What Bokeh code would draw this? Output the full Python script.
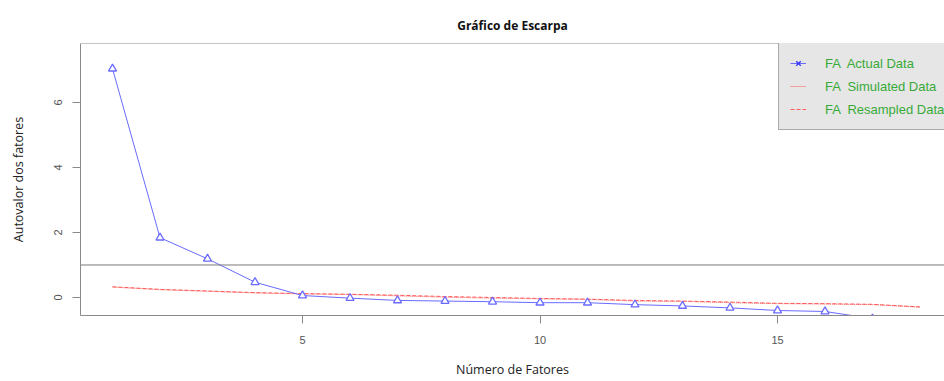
from bokeh.plotting import figure
from bokeh.models import Range1d, FixedTicker, Span, Legend, LegendItem, ColumnDataSource
from bokeh.embed import file_html
from bokeh.resources import INLINE

# ---- data ----
factors_actual = list(range(1, 18))
fa_actual = [7.04, 1.84, 1.19, 0.47, 0.06, -0.02, -0.09, -0.11, -0.13, -0.16,
             -0.16, -0.22, -0.26, -0.32, -0.40, -0.43, -0.65]
factors_sim = list(range(1, 19))
fa_simulated = [0.32, 0.24, 0.19, 0.14, 0.11, 0.09, 0.05, 0.01, -0.02, -0.04,
                -0.06, -0.11, -0.12, -0.16, -0.19, -0.20, -0.22, -0.30]
fa_resampled = [0.33, 0.25, 0.20, 0.15, 0.12, 0.10, 0.07, 0.03, 0.00, -0.03,
                -0.05, -0.09, -0.11, -0.14, -0.18, -0.19, -0.21, -0.29]
x_ticks = [5, 10, 15]
y_ticks = [0, 2, 4, 6]
ref_line = 1.0
legend_labels = ["FA  Actual Data", "FA  Simulated Data", "FA  Resampled Data"]

X0, X1 = 0.326, 18.516
Y0, Y1 = -0.554, 7.815

p = figure(width=944, height=381, output_backend="svg", toolbar_location=None,
           x_range=Range1d(X0, X1), y_range=Range1d(Y0, Y1),
           min_border_left=80, min_border_right=0, min_border_top=43, min_border_bottom=66,
           title="Gráfico de Escarpa")
p.background_fill_color = "white"
p.border_fill_color = "white"
p.outline_line_color = None
p.grid.visible = False

p.title.align = "center"
p.title.text_font = "Open Sans"
p.title.text_font_size = "12px"
p.title.text_font_style = "bold"
p.title.text_color = "#111111"
p.title.standoff = 19

for ax in (p.xaxis[0], p.yaxis[0]):
    ax.axis_line_color = "#8a8a8a"
    ax.major_tick_line_color = "#8a8a8a"
    ax.minor_tick_line_color = None
    ax.major_tick_out = 8
    ax.major_tick_in = 0
    ax.major_label_text_font = "Liberation Sans"
    ax.major_label_text_font_size = "11px"
    ax.major_label_text_color = "#555555"
    ax.axis_label_text_font = "Open Sans"
    ax.axis_label_text_font_size = "12.5px"
    ax.axis_label_text_font_style = "normal"
    ax.axis_label_text_color = "#222222"

p.xaxis.ticker = FixedTicker(ticks=x_ticks)
p.yaxis.ticker = FixedTicker(ticks=y_ticks)
p.yaxis.major_label_orientation = "vertical"
p.xaxis.axis_label = "Número de Fatores"
p.yaxis.axis_label = "Autovalor dos fatores"
p.xaxis.major_label_standoff = 12
p.xaxis.axis_label_standoff = 14
p.yaxis.major_label_standoff = 10
p.yaxis.axis_label_standoff = 25

# top border of the plot box
p.add_layout(Span(location=Y1, dimension="width", line_color="#8a8a8a", line_width=1))
# reference line at eigenvalue 1
p.add_layout(Span(location=ref_line, dimension="width", line_color="#7a7a7a", line_width=1))

blue = "#6a6aff"
red = "#ff5c5c"

r_sim = p.line(factors_sim, fa_simulated, line_color=red, line_width=1, line_dash="1 1")
r_res = p.line(factors_sim, fa_resampled, line_color=red, line_width=1, line_dash="4 2")
r_act = p.line(factors_actual, fa_actual, line_color=blue, line_width=1)
p.scatter(factors_actual, fa_actual, marker="triangle", size=8, line_color=blue,
          fill_color="white", line_width=1.3)

# legend-only marker (no drawable position)
nan_src = ColumnDataSource(data=dict(x=[float("nan")], y=[float("nan")]))
r_x = p.scatter("x", "y", source=nan_src, marker="x", size=7,
                line_color="#3535ff", line_width=1.3)

legend = Legend(items=[
    LegendItem(label=legend_labels[0], renderers=[r_act, r_x]),
    LegendItem(label=legend_labels[1], renderers=[r_sim]),
    LegendItem(label=legend_labels[2], renderers=[r_res]),
], location=(698, 185))
legend.background_fill_color = "#e6e6e6"
legend.background_fill_alpha = 1
legend.border_line_color = "#6e6e6e"
legend.border_line_width = 1
legend.label_text_color = "#38aa38"
legend.label_text_font = "Liberation Sans"
legend.label_text_font_size = "13px"
legend.label_standoff = 19
legend.glyph_width = 16
legend.glyph_height = 18
legend.label_height = 14
legend.spacing = 5
legend.padding = 11
legend.margin = 0
p.add_layout(legend, "center")

open("out.html", "w").write(file_html(p, INLINE))
